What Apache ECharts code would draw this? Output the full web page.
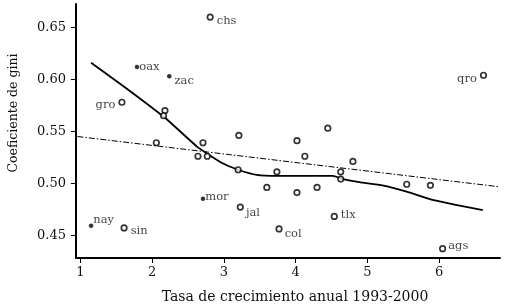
<!DOCTYPE html>
<html>
<head>
<meta charset="utf-8">
<script src="https://cdn.jsdelivr.net/npm/echarts@6/dist/echarts.min.js"></script>
<style>
  html, body { margin: 0; padding: 0; background: #fff; }
  #chart { width: 505px; height: 308px; }
</style>
</head>
<body>
<div id="chart"></div>
<script>
// estados: tasa de crecimiento (x) vs coeficiente de gini (y)
var names = ['chs','oax','zac','gro','','','','','','','','','','','','','','','','','','','','','tlx','qro','mor','jal','col','nay','sin','ags'];
var growth = [2.81,1.79,2.24,1.58,2.18,2.16,2.06,2.71,3.21,2.64,2.77,3.20,3.74,3.60,4.02,4.13,4.02,4.30,4.45,4.80,4.63,4.63,5.55,5.88,4.54,6.62,2.71,3.23,3.77,1.15,1.61,6.05];
var gini = [0.660,0.612,0.603,0.578,0.570,0.565,0.539,0.539,0.546,0.526,0.526,0.513,0.511,0.496,0.541,0.526,0.491,0.496,0.553,0.521,0.511,0.504,0.499,0.498,0.468,0.604,0.485,0.477,0.456,0.459,0.457,0.437];
var filled = ['oax','zac','mor','nay'];

// curva suavizada (lowess)
var lowessX = [1.15,1.63,2.18,2.63,2.78,2.99,3.20,3.46,3.74,4.06,4.34,4.52,4.66,4.89,5.21,5.55,5.91,6.61];
var lowessY = [0.616,0.592,0.563,0.535,0.528,0.519,0.513,0.508,0.507,0.507,0.507,0.507,0.504,0.501,0.498,0.492,0.484,0.474];

// recta de regresion
var regX = [0.96, 6.84];
var regY = [0.545, 0.4966];

var xTicks = [1,2,3,4,5,6];
var yTicks = [0.45,0.50,0.55,0.60,0.65];

// posicion de etiquetas
var labelPlace = {
    chs: {position:'right', offset:[0,4]},
    oax: {position:'right', offset:[-3,0]},
    zac: {position:'right', offset:[0,5]},
    gro: {position:'left', offset:[0,3]},
    qro: {position:'left', offset:[0,4]},
    tlx: {position:'right', offset:[0,-1]},
    mor: {position:'right', offset:[-3,-2]},
    jal: {position:'right', offset:[-1,6]},
    col: {position:'right', offset:[-1,5]},
    nay: {position:'right', offset:[-3,-6]},
    sin: {position:'right', offset:[0,3]},
    ags: {position:'right', offset:[-1,-3]}
};

var font = '"DejaVu Serif", "Liberation Serif", serif';
var ink = '#111';

var pts = [];
for (var i = 0; i < growth.length; i++) {
    var n = names[i];
    var isFilled = filled.indexOf(n) >= 0;
    var item = {
        value: [growth[i], gini[i]],
        name: n,
        symbolSize: isFilled ? 4 : 5.5,
        itemStyle: {color: isFilled ? '#000' : '#fff', borderColor: '#000', borderWidth: isFilled ? 0.5 : 1.7}
    };
    if (n) {
        var lp = labelPlace[n];
        item.label = {show: true, formatter: n, position: lp.position, offset: lp.offset, distance: 3,
            color: ink, fontFamily: font, fontSize: 11.5};
    }
    pts.push(item);
}

var lowess = [];
for (var i = 0; i < lowessX.length; i++) lowess.push([lowessX[i], lowessY[i]]);
var reg = [[regX[0], regY[0]], [regX[1], regY[1]]];

var chart = echarts.init(document.getElementById('chart'));
chart.setOption({
    animation: false,
    grid: {left: 76, right: 5, top: 4, bottom: 50},
    xAxis: {
        type: 'value', min: 0.94, max: 6.85,
        splitLine: {show: false},
        axisLine: {onZero: false, lineStyle: {color: '#000', width: 2}},
        axisTick: {customValues: xTicks, length: 5, lineStyle: {color: '#000', width: 1}},
        axisLabel: {customValues: xTicks, color: ink, fontFamily: font, fontSize: 13, margin: 8}
    },
    yAxis: {
        type: 'value', min: 0.428, max: 0.6726,
        splitLine: {show: false},
        axisLine: {onZero: false, lineStyle: {color: '#000', width: 2}},
        axisTick: {customValues: yTicks, length: 5, lineStyle: {color: '#000', width: 1}},
        axisLabel: {customValues: yTicks, color: ink, fontFamily: font, fontSize: 13, margin: 10,
            formatter: function (v) { return v.toFixed(2); }}
    },
    graphic: [
        {type: 'text', x: 295, y: 297,
            style: {text: 'Tasa de crecimiento anual 1993-2000', fill: ink, font: '14px ' + font,
                textAlign: 'center', textVerticalAlign: 'middle'}},
        {type: 'text', x: 14, y: 113, rotation: Math.PI / 2,
            style: {text: 'Coeficiente de gini', fill: ink, font: '12.5px ' + font,
                textAlign: 'center', textVerticalAlign: 'middle'}}
    ],
    series: [
        {
            type: 'line', data: reg, symbol: 'none', silent: true,
            lineStyle: {color: '#000', width: 1, type: [6, 2, 1.5, 2]}
        },
        {
            type: 'line', data: lowess, symbol: 'none', smooth: 0.15, silent: true,
            lineStyle: {color: '#000', width: 1.8}
        },
        {
            type: 'scatter', data: pts, z: 5
        }
    ]
});
</script>
</body>
</html>
